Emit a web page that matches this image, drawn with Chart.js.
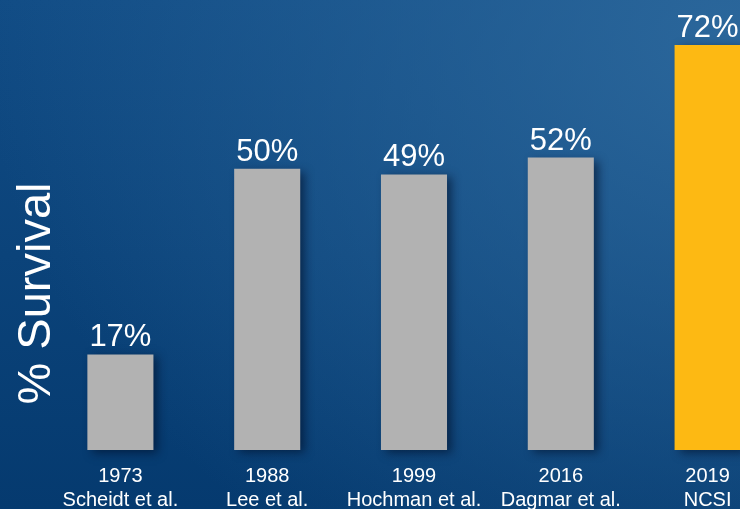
<!DOCTYPE html>
<html>
<head>
<meta charset="utf-8">
<script src="https://cdn.jsdelivr.net/npm/chart.js@4/dist/chart.umd.min.js"></script>
<style>
  html, body { margin: 0; padding: 0; overflow: hidden; }
  #wrap {
    position: relative; width: 740px; height: 509px; overflow: hidden;
    background:
      radial-gradient(ellipse 760px 620px at 745px 40px, rgba(46,106,158,0.9) 0%, rgba(46,106,158,0) 100%),
      linear-gradient(to bottom, #114c85 0%, #053a6f 100%);
  }
  #c { position: absolute; left: 0; top: 0; }
</style>
</head>
<body>
<div id="wrap"><canvas id="c" width="781" height="526"></canvas></div>
<script>
const years = ['1973', '1988', '1999', '2016', '2019'];
const authors = ['Scheidt et al.', 'Lee et al.', 'Hochman et al.', 'Dagmar et al.', 'NCSI'];
const survival = [17, 50, 49, 52, 72];
const yTitle = '% Survival';

const FONT = "'Liberation Sans', Arial, Helvetica, sans-serif";
const labels = years.map((y, i) => [y, authors[i]]);

const shadowPlugin = {
  id: 'barShadow',
  beforeDatasetsDraw(chart) {
    const ctx = chart.ctx;
    ctx.save();
    ctx.shadowColor = 'rgba(0,15,40,0.6)';
    ctx.shadowBlur = 9;
    ctx.shadowOffsetX = 5;
    ctx.shadowOffsetY = 3;
  },
  afterDatasetsDraw(chart) {
    const ctx = chart.ctx;
    ctx.restore();
    const meta = chart.getDatasetMeta(0);
    ctx.save();
    ctx.fillStyle = '#ffffff';
    ctx.font = '31px ' + FONT;
    ctx.textAlign = 'center';
    ctx.textBaseline = 'alphabetic';
    meta.data.forEach((bar, i) => {
      ctx.fillText(survival[i] + '%', bar.x, bar.y - 8);
    });
    ctx.translate(50, 293.5);
    ctx.rotate(-Math.PI / 2);
    ctx.font = '47px ' + FONT;
    ctx.fillText(yTitle, 0, 0);
    ctx.restore();
  }
};

new Chart(document.getElementById('c'), {
  type: 'bar',
  data: {
    labels: labels,
    datasets: [{
      data: survival,
      backgroundColor: survival.map((v, i) => i === survival.length - 1 ? '#fdb913' : '#b2b2b2'),
      borderWidth: 0,
      barPercentage: 0.45,
      categoryPercentage: 1.0,
      clip: false
    }]
  },
  options: {
    responsive: false,
    animation: false,
    devicePixelRatio: 1,
    layout: { padding: { left: 47, right: 0, top: 0, bottom: 0 } },
    plugins: { legend: { display: false }, tooltip: { enabled: false } },
    scales: {
      x: {
        grid: { display: false, drawTicks: false },
        border: { display: false },
        ticks: {
          color: '#ffffff',
          font: { family: FONT, size: 20, lineHeight: 1.2 },
          padding: 14,
          maxRotation: 0,
          autoSkip: false
        }
      },
      y: {
        display: false,
        min: 0,
        max: 80
      }
    }
  },
  plugins: [shadowPlugin]
});
</script>
</body>
</html>
